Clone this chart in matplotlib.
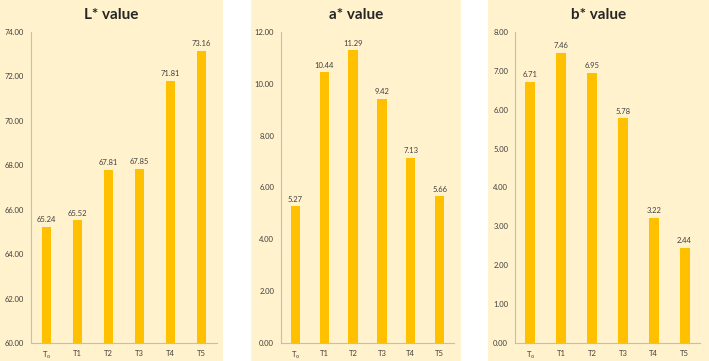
import matplotlib
matplotlib.use("Agg")
import matplotlib.pyplot as plt
from matplotlib.patches import Rectangle

plt.rcParams['font.family'] = ['Lato', 'DejaVu Sans']

categories = ['T$_\\mathregular{o}$', 'T1', 'T2', 'T3', 'T4', 'T5']
l_values = [65.24, 65.52, 67.81, 67.85, 71.81, 73.16]
a_values = [5.27, 10.44, 11.29, 9.42, 7.13, 5.66]
b_values = [6.71, 7.46, 6.95, 5.78, 3.22, 2.44]

titles = ['L* value', 'a* value', 'b* value']
ylims = [(60, 74), (0, 12), (0, 8)]
ysteps = [2, 2, 1]

W, H = 709, 361
fig = plt.figure(figsize=(W / 100, H / 100), dpi=100)
fig.patch.set_facecolor('white')

bg = '#FFF2CC'
bar_color = '#FFC000'
axis_color = '#BFBFBF'
text_color = '#404040'

# panel backgrounds (pixel x ranges) and axes boxes (left, right)
panels = [(0, 223), (251, 461), (488, 709)]
boxes = [(31, 217), (281, 454), (515, 700)]
top_px, bottom_px = 32, 343

for (x0, x1) in panels:
    fig.patches.append(Rectangle((x0 / W, 0), (x1 - x0) / W, 1,
                                 transform=fig.transFigure, facecolor=bg,
                                 edgecolor='none', zorder=-10))

for i, values in enumerate([l_values, a_values, b_values]):
    left, right = boxes[i]
    ax = fig.add_axes([left / W, 1 - bottom_px / H, (right - left) / W,
                       (bottom_px - top_px) / H])
    ax.set_facecolor('none')
    x = range(len(categories))
    ax.bar(x, values, width=0.32, color=bar_color, zorder=2)
    lo, hi = ylims[i]
    ax.set_ylim(lo, hi)
    ax.set_xlim(-0.5, len(categories) - 0.5)
    ticks = [lo + k * ysteps[i] for k in range(int((hi - lo) / ysteps[i]) + 1)]
    ax.set_yticks(ticks)
    ax.set_yticklabels([f'{t:.2f}' for t in ticks], fontsize=5.5, color=text_color)
    ax.set_xticks(list(x))
    ax.set_xticklabels(categories, fontsize=5.5, color=text_color)
    ax.tick_params(length=0, pad=5)
    for s in ['top', 'right']:
        ax.spines[s].set_visible(False)
    for s in ['left', 'bottom']:
        ax.spines[s].set_color(axis_color)
        ax.spines[s].set_linewidth(0.8)
    for xi, v in zip(x, values):
        ax.text(xi, v + (hi - lo) * 0.012, f'{v:.2f}', ha='center', va='bottom',
                fontsize=5.5, color=text_color)
    cx = (panels[i][0] + panels[i][1]) / 2 / W
    fig.text(cx, 1 - 15 / H, titles[i], ha='center', va='center',
             fontsize=11, fontweight='bold', color='#262626')

fig.savefig('out.png', dpi=100, facecolor='white')
